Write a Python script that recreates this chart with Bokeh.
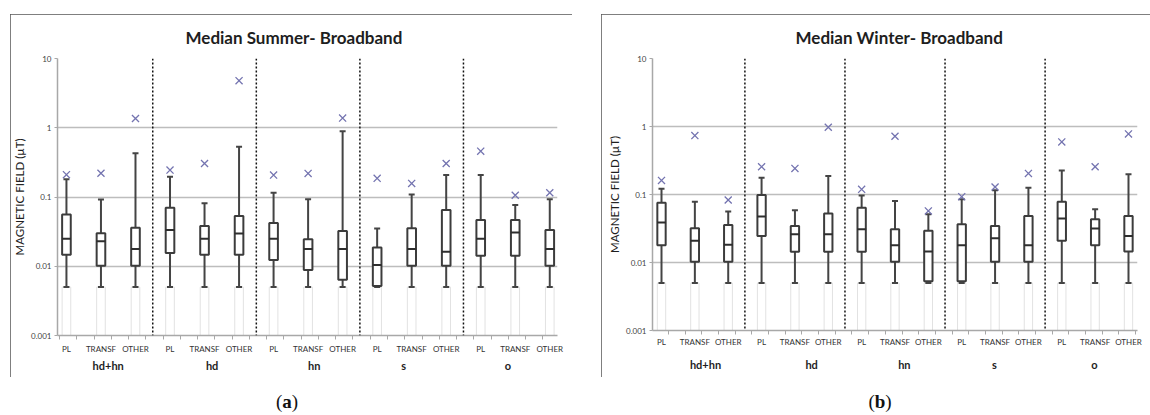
from bokeh.plotting import figure
from bokeh.models import LinearAxis, FixedTicker, Span, Div
from bokeh.layouts import row, column
from bokeh.embed import file_html
from bokeh.resources import INLINE

# ---------------- data ----------------
sub_categories = ["PL", "TRANSF", "OTHER"]
groups = ["hd+hn", "hd", "hn", "s", "o"]
categories = sub_categories * len(groups)
y_ticks = [0.001, 0.01, 0.1, 1, 10]
y_tick_labels = ["0.001", "0.01", "0.1", "1", "10"]

summer_low = [0.005, 0.005, 0.005, 0.005, 0.005, 0.005, 0.005, 0.005, 0.005, 0.005, 0.005, 0.005, 0.005, 0.005, 0.005]
summer_q1 = [0.0146, 0.0102, 0.0102, 0.0155, 0.0146, 0.0146, 0.0123, 0.0088, 0.0064, 0.0052, 0.0102, 0.0102, 0.0142, 0.0142, 0.0102]
summer_med = [0.025, 0.023, 0.0177, 0.0335, 0.025, 0.0296, 0.025, 0.0177, 0.0177, 0.0104, 0.0177, 0.0162, 0.025, 0.0307, 0.0177]
summer_q3 = [0.056, 0.030, 0.036, 0.070, 0.038, 0.053, 0.042, 0.0246, 0.0324, 0.0187, 0.0355, 0.065, 0.0467, 0.0464, 0.0335]
summer_high = [0.18, 0.092, 0.43, 0.196, 0.081, 0.53, 0.115, 0.093, 0.89, 0.035, 0.109, 0.207, 0.207, 0.0767, 0.093]
summer_mark = [0.21, 0.22, 1.36, 0.245, 0.305, 4.78, 0.207, 0.219, 1.38, 0.186, 0.157, 0.305, 0.459, 0.106, 0.115]

winter_low = [0.005, 0.005, 0.005, 0.005, 0.005, 0.005, 0.005, 0.005, 0.005, 0.005, 0.005, 0.005, 0.005, 0.005, 0.005]
winter_q1 = [0.018, 0.0103, 0.0103, 0.0246, 0.0144, 0.0144, 0.0144, 0.0103, 0.0053, 0.0053, 0.0103, 0.0103, 0.0208, 0.018, 0.0145]
winter_med = [0.0386, 0.0208, 0.0182, 0.0473, 0.0261, 0.0261, 0.0309, 0.018, 0.0145, 0.018, 0.0228, 0.018, 0.0442, 0.0316, 0.0246]
winter_q3 = [0.0759, 0.0319, 0.0357, 0.0984, 0.0345, 0.0524, 0.0641, 0.0309, 0.0292, 0.0366, 0.0345, 0.0484, 0.0785, 0.0433, 0.0484]
winter_high = [0.122, 0.0785, 0.056, 0.176, 0.0587, 0.187, 0.097, 0.0803, 0.0513, 0.085, 0.115, 0.126, 0.226, 0.0607, 0.198]
winter_mark = [0.161, 0.736, 0.083, 0.256, 0.242, 0.975, 0.119, 0.72, 0.0573, 0.0929, 0.129, 0.204, 0.594, 0.256, 0.778]

FONT = "Lato"


def make_panel(title, low, q1, med, q3, high, mark, width, height, borders,
               x_start, x_end, title_offset, tick_shift, group_shift, margin,
               label_standoffs):
    n = len(categories)
    xs = list(range(n))
    p = figure(width=width, height=height, y_axis_type="log",
               y_range=(0.001, 10), x_range=(x_start, x_end),
               output_backend="svg", toolbar_location=None,
               min_border_left=borders[0], min_border_right=borders[1],
               min_border_top=borders[2], min_border_bottom=borders[3],
               background_fill_color="white", border_fill_color="white",
               margin=margin)
    p.outline_line_color = None
    # panel frame: CSS outline drawn inside the element, no effect on layout
    p.styles = {"outline": "2px solid #555555", "outline-offset": "-2px"}

    # title
    p.title.text = title
    p.title.align = "left"
    p.title.offset = title_offset
    p.title.text_font = FONT
    p.title.text_font_style = "bold"
    p.title.text_font_size = "17px"
    p.title.text_color = "#1e1e1e"
    p.title.standoff = 21

    # y axis
    yax = p.yaxis[0]
    yax.ticker = FixedTicker(ticks=y_ticks, minor_ticks=[])
    yax.major_label_overrides = {t: l for t, l in zip(y_ticks, y_tick_labels)}
    yax.axis_label = "MAGNETIC FIELD (µT)"
    yax.axis_label_text_font = FONT
    yax.axis_label_text_font_style = "normal"
    yax.axis_label_text_font_size = "11.5px"
    yax.axis_label_text_color = "#1e1e1e"
    yax.axis_label_standoff = 2
    yax.major_label_text_font = FONT
    yax.major_label_text_font_size = "8px"
    yax.major_label_text_color = "#444444"
    yax.major_label_standoff = 3
    yax.axis_line_color = "#a8a8a8"
    yax.axis_line_width = 1.5
    yax.major_tick_line_color = "#a8a8a8"
    yax.major_tick_out = 3
    yax.major_tick_in = 0
    yax.minor_tick_line_color = None

    p.ygrid.grid_line_color = "#bdbdbd"
    p.ygrid.grid_line_width = 1.5
    p.ygrid.minor_grid_line_color = None
    p.xgrid.visible = False

    # x axis with sub-category labels
    xax = p.xaxis[0]
    xax.ticker = FixedTicker(ticks=xs,
                             minor_ticks=[tick_shift + 0.5 * k for k in range(2 * n + 1)])
    xax.major_label_overrides = {i: c for i, c in enumerate(categories)}
    xax.major_label_text_font = FONT
    xax.major_label_text_font_size = "8px"
    xax.major_label_text_color = "#333333"
    xax.major_label_standoff = label_standoffs[0]
    xax.major_tick_line_color = None
    xax.major_tick_out = 4
    xax.major_tick_in = 0
    xax.minor_tick_line_color = "#a8a8a8"
    xax.minor_tick_out = 4
    xax.minor_tick_in = 0
    xax.axis_line_color = "#a8a8a8"
    xax.axis_line_width = 1.5

    # group axis
    gpos = [3 * g + 1 + group_shift[g] for g in range(len(groups))]
    gax = LinearAxis(ticker=FixedTicker(ticks=gpos, minor_ticks=[]))
    gax.major_label_overrides = {pos: name for pos, name in zip(gpos, groups)}
    gax.major_label_text_font = FONT
    gax.major_label_text_font_style = "bold"
    gax.major_label_text_font_size = "11px"
    gax.major_label_text_color = "#1e1e1e"
    gax.major_label_standoff = label_standoffs[1]
    gax.axis_line_color = None
    gax.major_tick_line_color = None
    gax.major_tick_out = 0
    gax.minor_tick_line_color = None
    p.add_layout(gax, "below")

    # faint base columns (from axis to lower whisker)
    p.vbar(x=xs, width=0.25, bottom=[0.001] * n, top=low,
           fill_color=None, line_color="#e2e2e2", line_width=1)
    # whiskers
    p.segment(x0=xs, y0=low, x1=xs, y1=q1, line_color="#444444", line_width=2)
    p.segment(x0=xs, y0=q3, x1=xs, y1=high, line_color="#444444", line_width=2)
    p.scatter(x=xs, y=low, marker="dash", size=6, line_color="#444444", line_width=2)
    p.scatter(x=xs, y=high, marker="dash", size=6, line_color="#444444", line_width=2)
    # boxes
    p.vbar(x=xs, width=0.25, bottom=q1, top=q3, fill_color="white",
           line_color="#3c3c3c", line_width=2)
    p.scatter(x=xs, y=med, marker="dash", size=9, line_color="#2e2e2e", line_width=2)
    # X markers
    p.scatter(x=xs, y=mark, marker="x", size=10, line_color="#7474b0", line_width=1.3)

    # group separators
    for g in range(1, len(groups)):
        p.add_layout(Span(location=3 * g - 0.5, dimension="height",
                          line_color="#111111", line_width=1.5, line_dash="2 2"))
    return p


p1 = make_panel("Median Summer- Broadband", summer_low, summer_q1, summer_med,
                summer_q3, summer_high, summer_mark,
                width=562, height=363, borders=(43, 15, 43, 42),
                x_start=-0.259, x_end=14.224, title_offset=128, tick_shift=-0.2,
                group_shift=[0.21, 0.22, 0.18, -0.23, -0.21], margin=(14, 0, 0, 10),
                label_standoffs=(4, 2))

p2 = make_panel("Median Winter- Broadband", winter_low, winter_q1, winter_med,
                winter_q3, winter_high, winter_mark,
                width=549, height=363, borders=(51, 13, 43, 47),
                x_start=-0.27, x_end=14.27, title_offset=143, tick_shift=-0.29,
                group_shift=[0.32, 0.5, 0.28, -0.02, -0.02], margin=(14, 0, 0, 29),
                label_standoffs=(2, 8))

label_style = {"font-family": "Liberation Serif", "font-size": "19px",
               "text-align": "center", "color": "#111111", "padding-top": "11px"}
div_a = Div(text="(<b>a</b>)", width=554, height=28, styles=label_style, margin=(0, 0, 0, 10))
div_b = Div(text="(<b>b</b>)", width=520, height=28, styles=label_style, margin=(0, 0, 0, 56))

# each panel in its own column so that the two plot frames are not aligned
layout = column(row(column(p1), column(p2)), row(div_a, div_b))

open("out.html", "w").write(file_html(layout, INLINE))
